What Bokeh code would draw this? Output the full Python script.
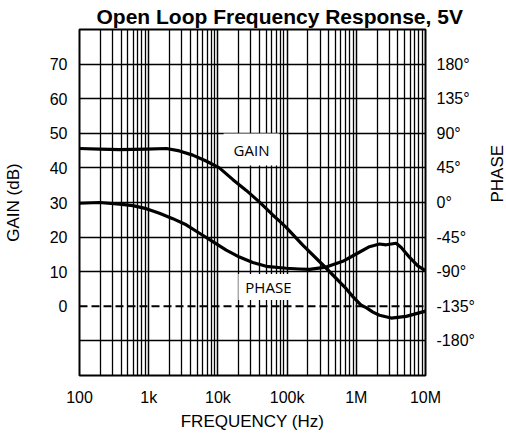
import math
from bokeh.plotting import figure
from bokeh.models import FixedTicker, LinearAxis, Range1d, Span, Label
from bokeh.embed import file_html
from bokeh.resources import INLINE

# ---- data ----
freq_gain = [100, 194, 379, 922, 1800, 2780, 4330, 6750, 10500, 16500, 25700, 40000,
             62000, 77700, 97000, 151000, 168600, 347000, 714000, 891000, 1.18e6,
             1.39e6, 1.74e6, 2.16e6, 3.19e6, 5.26e6, 1.0e7]
gain_db = [45.6, 45.4, 45.3, 45.4, 45.6, 44.9, 43.7, 42.0, 40.0, 36.6, 33.5, 30.1,
           26.4, 24.6, 22.8, 18.7, 17.7, 11.5, 5.1, 2.8, 0.3,
           -0.4, -1.7, -2.6, -3.4, -2.9, -1.4]

freq_phase = [100, 194, 379, 589, 922, 1430, 2230, 3480, 5420, 8440, 13200, 20500,
              31900, 49900, 97000, 151000, 211000, 367000, 638000, 995000, 1.55e6,
              2.16e6, 2.7e6, 3.19e6, 3.77e6, 4.46e6, 5.9e6, 7.74e6, 1.0e7]
phase_deg = [-1, 0, -2, -4, -8, -14, -21, -29, -40, -51, -62, -71,
             -78, -83, -85.5, -86.5, -87, -84, -76.5, -67, -57.5,
             -54, -55, -54, -53, -58.5, -71.5, -82.5, -88.5]

x_ticks = [100, 1000, 10000, 100000, 1000000, 10000000]
x_tick_labels = ["100", "1k", "10k", "100k", "1M", "10M"]
gain_ticks = [0, 10, 20, 30, 40, 50, 60, 70]
grid_levels = [-10, 10, 20, 30, 40, 50, 60, 70]
phase_ticks = [-180, -135, -90, -45, 0, 45, 90, 135, 180]
phase_tick_labels = ["-180°", "-135°", "-90°", "-45°", "0°", "45°", "90°", "135°", "180°"]

FONT = "Liberation Sans"

p = figure(frame_width=346, frame_height=346, x_axis_type="log",
           x_range=Range1d(100, 1e7), y_range=Range1d(-20, 80),
           output_backend="svg", toolbar_location=None,
           min_border_left=72, min_border_right=78,
           min_border_top=22, min_border_bottom=54)
p.extra_y_ranges = {"phase": Range1d(-225, 225)}

p.background_fill_color = "white"
p.border_fill_color = "white"
p.outline_line_color = "black"
p.outline_line_width = 2
p.outline_line_alpha = 1

# title
p.title.text = "Open Loop Frequency Response, 5V"
p.title.text_font = FONT
p.title.text_font_size = "21px"
p.title.text_font_style = "bold"
p.title.text_color = "black"
p.title.align = "left"
p.title.offset = 17
p.title.standoff = 4

# x axis
minor = [m * d for d in x_ticks[:-1] for m in range(2, 10)]
p.xaxis.ticker = FixedTicker(ticks=x_ticks, minor_ticks=minor)
p.xaxis.major_label_overrides = dict(zip(x_ticks, x_tick_labels))
p.xaxis.axis_label = "FREQUENCY (Hz)"

# left axis
p.yaxis.ticker = FixedTicker(ticks=gain_ticks)
p.yaxis.axis_label = "GAIN (dB)"

# right axis
ra = LinearAxis(y_range_name="phase", ticker=FixedTicker(ticks=phase_ticks),
                major_label_overrides=dict(zip(phase_ticks, phase_tick_labels)),
                axis_label="PHASE")
p.add_layout(ra, "right")

for ax in [p.xaxis[0], p.yaxis[0], ra]:
    ax.axis_line_color = None
    ax.major_tick_line_color = None
    ax.minor_tick_line_color = None
    ax.major_tick_out = 0
    ax.major_tick_in = 0
    ax.minor_tick_out = 0
    ax.minor_tick_in = 0
    ax.major_label_text_font = FONT
    ax.major_label_text_font_size = "16px"
    ax.major_label_text_color = "black"
    ax.axis_label_text_font = FONT
    ax.axis_label_text_font_size = "17px"
    ax.axis_label_text_font_style = "normal"
    ax.axis_label_text_color = "black"

p.xaxis.major_label_standoff = 13
p.xaxis.axis_label_standoff = 3
p.yaxis.major_label_standoff = 12
p.yaxis.axis_label_standoff = 24
ra.major_label_standoff = 11
ra.axis_label_standoff = 20
ra.axis_label_orientation = math.pi / 2

# grids
p.xgrid.grid_line_color = "black"
p.xgrid.grid_line_width = 1.5
p.xgrid.minor_grid_line_color = "black"
p.xgrid.minor_grid_line_width = 1.3
p.ygrid.ticker = FixedTicker(ticks=grid_levels)
p.ygrid.grid_line_color = "black"
p.ygrid.grid_line_width = 1.5

zero = Span(location=0, dimension="width", line_color="black", line_width=2,
            line_dash="8 4", level="underlay")
p.add_layout(zero)

# curves
p.line(freq_gain, gain_db, line_color="black", line_width=3.2, line_join="round")
p.line(freq_phase, phase_deg, y_range_name="phase", line_color="black",
       line_width=3.2, line_join="round")

# in-plot labels
p.add_layout(Label(x=30600, y=45.3, text="GAIN", text_align="center",
                   text_baseline="middle", text_font="Open Sans",
                   text_font_size="15px", text_color="black",
                   background_fill_color="white",
                   padding=dict(left=10, right=10, top=6, bottom=6)))
p.add_layout(Label(x=53700, y=5.6, text="PHASE", text_align="center",
                   text_baseline="middle", text_font="Open Sans",
                   text_font_size="15px", text_color="black",
                   background_fill_color="white",
                   padding=dict(left=7, right=7, top=3, bottom=3)))

open("out.html", "w").write(file_html(p, INLINE))
